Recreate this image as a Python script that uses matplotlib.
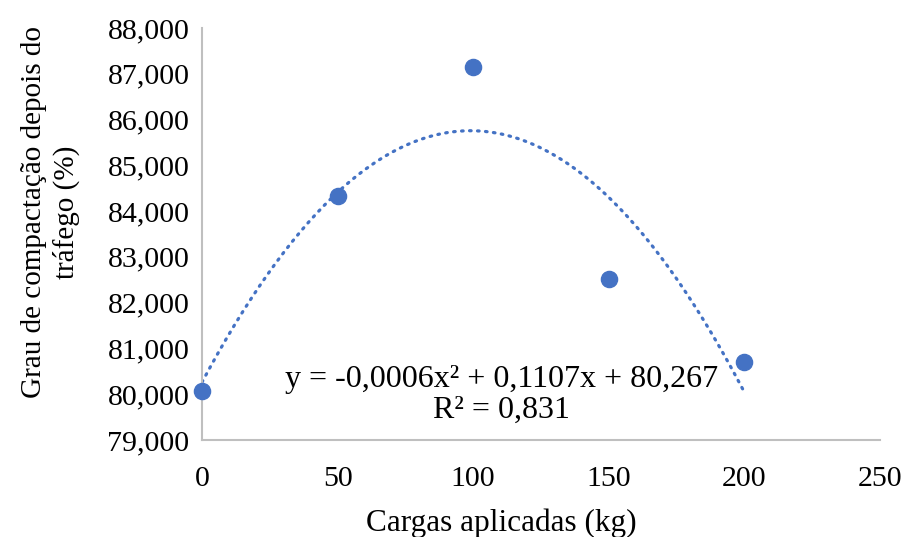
import numpy as np
import matplotlib.pyplot as plt
from matplotlib.ticker import FuncFormatter

plt.rcParams['font.family'] = ['Liberation Serif', 'DejaVu Serif']

cargas = [0, 50, 100, 150, 200]
grau = [80.07, 84.33, 87.15, 82.52, 80.71]
equacao = "y = -0,0006x² + 0,1107x + 80,267\nR² = 0,831"

blue = '#4472C4'
gray = '#BFBFBF'

fig = plt.figure(figsize=(9.06, 5.37), dpi=100)
ax = fig.add_axes([0.223, 0.1806, 0.748, 0.7674])

# polynomial trendline (order 2), like the spreadsheet does
coef = np.polyfit(cargas, grau, 2)
xs = np.linspace(0, 200, 200)
ax.plot(xs, np.polyval(coef, xs), color=blue, lw=2.3, linestyle=(0, (0.5, 2.0)),
        dash_capstyle='round', zorder=2)
ax.scatter(cargas, grau, s=135, color=blue, zorder=3, clip_on=False)

ax.set_xlim(0, 250)
ax.set_ylim(79, 88)
ax.set_xticks([0, 50, 100, 150, 200, 250])
ax.set_yticks(np.arange(79, 89, 1))
ax.yaxis.set_major_formatter(FuncFormatter(lambda v, p: f"{v:.3f}".replace('.', ',')))

for s in ['top', 'right']:
    ax.spines[s].set_visible(False)
for s in ['left', 'bottom']:
    ax.spines[s].set_color(gray)
    ax.spines[s].set_linewidth(1.5)
ax.tick_params(axis='both', length=0, labelsize=21.5, colors='black')
ax.tick_params(axis='x', pad=19)
ax.tick_params(axis='y', pad=9)

ax.text(0.442, 0.109, equacao, transform=ax.transAxes, ha='center', va='center',
        fontsize=23, multialignment='center', linespacing=1.1)

fig.text(0.553, 0.026, "Cargas aplicadas (kg)", ha='center', va='center', fontsize=22.5)
fig.text(0.056, 0.605, "Grau de compactação depois do\ntráfego (%)", rotation=90,
         ha='center', va='center', fontsize=21, multialignment='center', linespacing=1.25)

fig.savefig('out.png', dpi=100)
